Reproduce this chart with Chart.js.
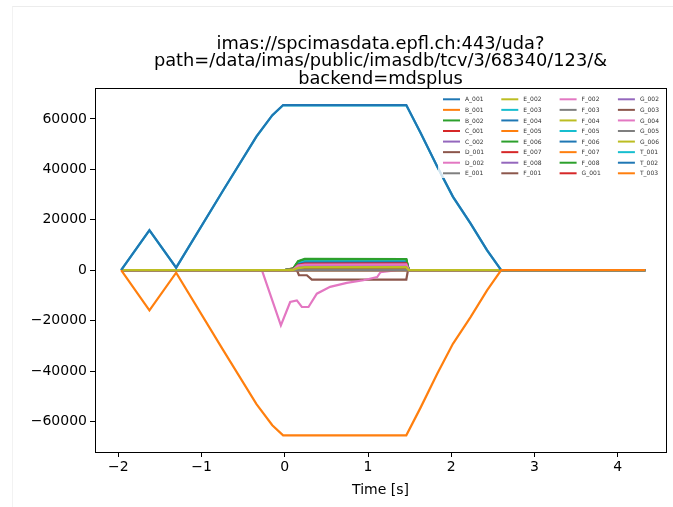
<!DOCTYPE html>
<html>
<head>
<meta charset="utf-8">
<script src="https://cdn.jsdelivr.net/npm/chart.js@4.4.0/dist/chart.umd.min.js"></script>
<style>
html, body { margin: 0; padding: 0; background: #fff; }
#wrap { position: relative; width: 673px; height: 507px; }
#frame { position: absolute; left: 12px; top: 6px; right: 0; bottom: 0; border-top: 1px solid #ececec; border-left: 1px solid #f2f2f2; pointer-events: none; }
canvas { display: block; }
</style>
</head>
<body>
<div id="wrap">
  <canvas id="coils" width="673" height="507"></canvas>
  <div id="frame"></div>
</div>
<script>
// coil names, in the order matplotlib plotted them
const coil_names = [
    'A_001', 'B_001', 'B_002', 'C_001', 'C_002', 'D_001', 'D_002', 'E_001',
    'E_002', 'E_003', 'E_004', 'E_005', 'E_006', 'E_007', 'E_008', 'F_001',
    'F_002', 'F_003', 'F_004', 'F_005', 'F_006', 'F_007', 'F_008', 'G_001',
    'G_002', 'G_003', 'G_004', 'G_005', 'G_006', 'T_001', 'T_002', 'T_003'
];
const tab10 = ['#1f77b4', '#ff7f0e', '#2ca02c', '#d62728', '#9467bd',
               '#8c564b', '#e377c2', '#7f7f7f', '#bcbd22', '#17becf'];

const x_ticks = [-2, -1, 0, 1, 2, 3, 4];
const y_ticks = [-60000, -40000, -20000, 0, 20000, 40000, 60000];

// time bases [s]
const t_flat = [-1.966, 4.33];
const t_bundle = [-1.966, 0.00, 0.10, 0.16, 0.24, 1.46, 1.49, 4.33];
const t_swing = [-1.966, -1.626, -1.305, -0.74, -0.34, -0.15, -0.02, 1.46, 1.63, 1.83, 2.02, 2.23, 2.43, 2.60, 4.33];
const t_dip = [-1.966, -0.275, -0.047, 0.065, 0.145, 0.205, 0.285, 0.385, 0.545, 0.745, 0.945, 1.11, 1.15, 1.47, 1.50, 4.33];
const t_box = [-1.966, 0.145, 0.17, 0.265, 0.325, 1.46, 1.48, 4.33];

// currents [A]
const A_001 = [0, 0];
const B_001 = [0, 0];
const B_002 = [0, 0, 500, 3400, 4300, 4200, 0, 0];
const C_001 = [0, 0, 200, 2200, 2800, 2800, 0, 0];
const C_002 = [0, 0, 100, 1400, 1800, 1800, 0, 0];
const D_001 = [0, 0, -2000, -2000, -3700, -3700, 0, 0];
const D_002 = [0, 0, -21900, -12600, -12000, -14600, -14600, -9300, -6600, -5000, -4000, -2700, -800, 500, 0, 0];
const E_001 = [0, 0, 300, 500, 700, 700, 0, 0];
const E_002 = [0, 0, 100, 1300, 1600, 1700, 0, 0];
const E_003 = [0, 0, 400, 3000, 3900, 3800, 0, 0];
const E_004 = [0, 0, 300, 2600, 3300, 3300, 0, 0];
const E_005 = [0, 0, 200, 300, 400, 400, 0, 0];
const E_006 = [0, 0, 400, 3200, 4100, 4000, 0, 0];
const E_007 = [0, 0, 200, 2000, 2500, 2500, 0, 0];
const E_008 = [0, 0, 100, 1700, 2100, 2100, 0, 0];
const F_001 = [0, 0, 800, 600, 500, 500, 0, 0];
const F_002 = [0, 0, 200, 1900, 2400, 2400, 0, 0];
const F_003 = [0, 0];
const F_004 = [0, 0, 100, 1100, 1300, 1400, 0, 0];
const F_005 = [0, 0, 300, 2800, 3600, 3600, 0, 0];
const F_006 = [0, 0, 300, 2400, 3000, 3100, 0, 0];
const F_007 = [0, 0];
const F_008 = [0, 0, 600, 3600, 4500, 4400, 0, 0];
const G_001 = [0, 0, 200, 2100, 2600, 2700, 0, 0];
const G_002 = [0, 0, 100, 1600, 2000, 2000, 0, 0];
const G_003 = [0, 0];
const G_004 = [0, 0, 200, 1800, 2200, 2300, 0, 0];
const G_005 = [0, 0];
const G_006 = [0, 0, 100, 900, 1100, 1200, 0, 0];
const T_001 = [0, 15800, 1000, 31600, 53000, 61400, 65400, 65400, 54500, 41100, 29100, 18600, 7900, 0, 0];
const T_002 = [0, 15900, 1000, 31700, 53100, 61500, 65500, 65500, 54600, 41200, 29200, 18700, 8000, 0, 0];
const T_003 = [0, -15900, -1000, -31700, -53100, -61500, -65500, -65500, -54600, -41200, -29200, -18700, -8000, 0, 0];

const coil_series = [
    [t_flat, A_001], [t_flat, B_001], [t_bundle, B_002], [t_bundle, C_001],
    [t_bundle, C_002], [t_box, D_001], [t_dip, D_002], [t_bundle, E_001],
    [t_bundle, E_002], [t_bundle, E_003], [t_bundle, E_004], [t_bundle, E_005],
    [t_bundle, E_006], [t_bundle, E_007], [t_bundle, E_008], [t_bundle, F_001],
    [t_bundle, F_002], [t_flat, F_003], [t_bundle, F_004], [t_bundle, F_005],
    [t_bundle, F_006], [t_flat, F_007], [t_bundle, F_008], [t_bundle, G_001],
    [t_bundle, G_002], [t_flat, G_003], [t_bundle, G_004], [t_flat, G_005],
    [t_bundle, G_006], [t_swing, T_001], [t_swing, T_002], [t_swing, T_003]
];

const title_lines = [
    'imas://spcimasdata.epfl.ch:443/uda?',
    'path=/data/imas/public/imasdb/tcv/3/68340/123/&',
    'backend=mdsplus'
];

const FONT = '"DejaVu Sans", sans-serif';

function minus_sign(value) {
    return String(value).replace('-', '\u2212');
}

// matplotlib draws the box on all four sides
const axes_box = {
    id: 'axes_box',
    afterDatasetsDraw(chart) {
        const {ctx, chartArea: a} = chart;
        ctx.save();
        ctx.strokeStyle = '#000';
        ctx.lineWidth = 1;
        ctx.strokeRect(Math.round(a.left) + 0.5, Math.round(a.top) + 0.5,
                       Math.round(a.right - a.left), Math.round(a.bottom - a.top));
        ctx.restore();
    }
};

// 4 column legend, filled column first like matplotlib
const mpl_legend = {
    id: 'mpl_legend',
    afterDraw(chart) {
        const ctx = chart.ctx;
        const datasets = chart.data.datasets;
        ctx.save();
        ctx.fillStyle = 'rgba(255,255,255,0.8)';
        ctx.fillRect(438, 93, 226, 85);
        ctx.font = '6px ' + FONT;
        ctx.textBaseline = 'middle';
        ctx.textAlign = 'left';
        datasets.forEach((d, i) => {
            const col = Math.floor(i / 8);
            const row = i % 8;
            const x = 443 + col * 58.3;
            const y = 99.3 + row * 10.57;
            ctx.strokeStyle = d.borderColor;
            ctx.lineWidth = 2;
            ctx.beginPath();
            ctx.moveTo(x, y);
            ctx.lineTo(x + 17, y);
            ctx.stroke();
            ctx.fillStyle = '#333';
            ctx.fillText(d.label, x + 22, y + 0.5);
        });
        ctx.restore();
    }
};

const datasets = coil_names.map((name, i) => {
    const [times, values] = coil_series[i];
    const color = tab10[i % tab10.length];
    return {
        label: name,
        data: times.map((t, k) => ({x: t, y: values[k]})),
        borderColor: color,
        backgroundColor: color,
        borderWidth: 2.2,
        pointRadius: 0,
        tension: 0,
        order: coil_names.length - i,
    };
});

const chart = new Chart(document.getElementById('coils'), {
    type: 'line',
    data: {datasets: datasets},
    options: {
        responsive: false,
        animation: false,
        events: [],
        layout: {padding: {left: 0, right: 7, top: 0, bottom: 0}},
        plugins: {
            legend: {display: false},
            tooltip: {enabled: false},
            title: {
                display: true,
                fullSize: false,
                text: title_lines,
                color: '#000',
                font: {family: FONT, size: 17.8, weight: 'normal', lineHeight: 1.0},
                padding: {top: 35, bottom: 0},
            },
        },
        scales: {
            x: {
                type: 'linear',
                min: -2.28,
                max: 4.58,
                afterFit(scale) { scale.height = 55; },
                afterBuildTicks(scale) { scale.ticks = x_ticks.map(v => ({value: v})); },
                grid: {drawOnChartArea: false, tickLength: 5, color: '#000'},
                border: {color: '#000'},
                ticks: {
                    maxRotation: 0,
                    autoSkip: false,
                    padding: 2,
                    color: '#000',
                    font: {family: FONT, size: 14},
                    callback: v => minus_sign(v),
                },
                title: {
                    display: true,
                    text: 'Time [s]',
                    color: '#000',
                    font: {family: FONT, size: 14},
                    padding: {top: 0, bottom: 8},
                },
            },
            y: {
                type: 'linear',
                min: -72100,
                max: 72100,
                afterFit(scale) { scale.width = 95; },
                afterBuildTicks(scale) { scale.ticks = y_ticks.map(v => ({value: v})); },
                grid: {drawOnChartArea: false, tickLength: 5, color: '#000'},
                border: {color: '#000'},
                ticks: {
                    autoSkip: false,
                    padding: 3,
                    color: '#000',
                    font: {family: FONT, size: 14},
                    callback: v => minus_sign(v),
                },
            },
        },
    },
    plugins: [axes_box, mpl_legend],
});
</script>
</body>
</html>
